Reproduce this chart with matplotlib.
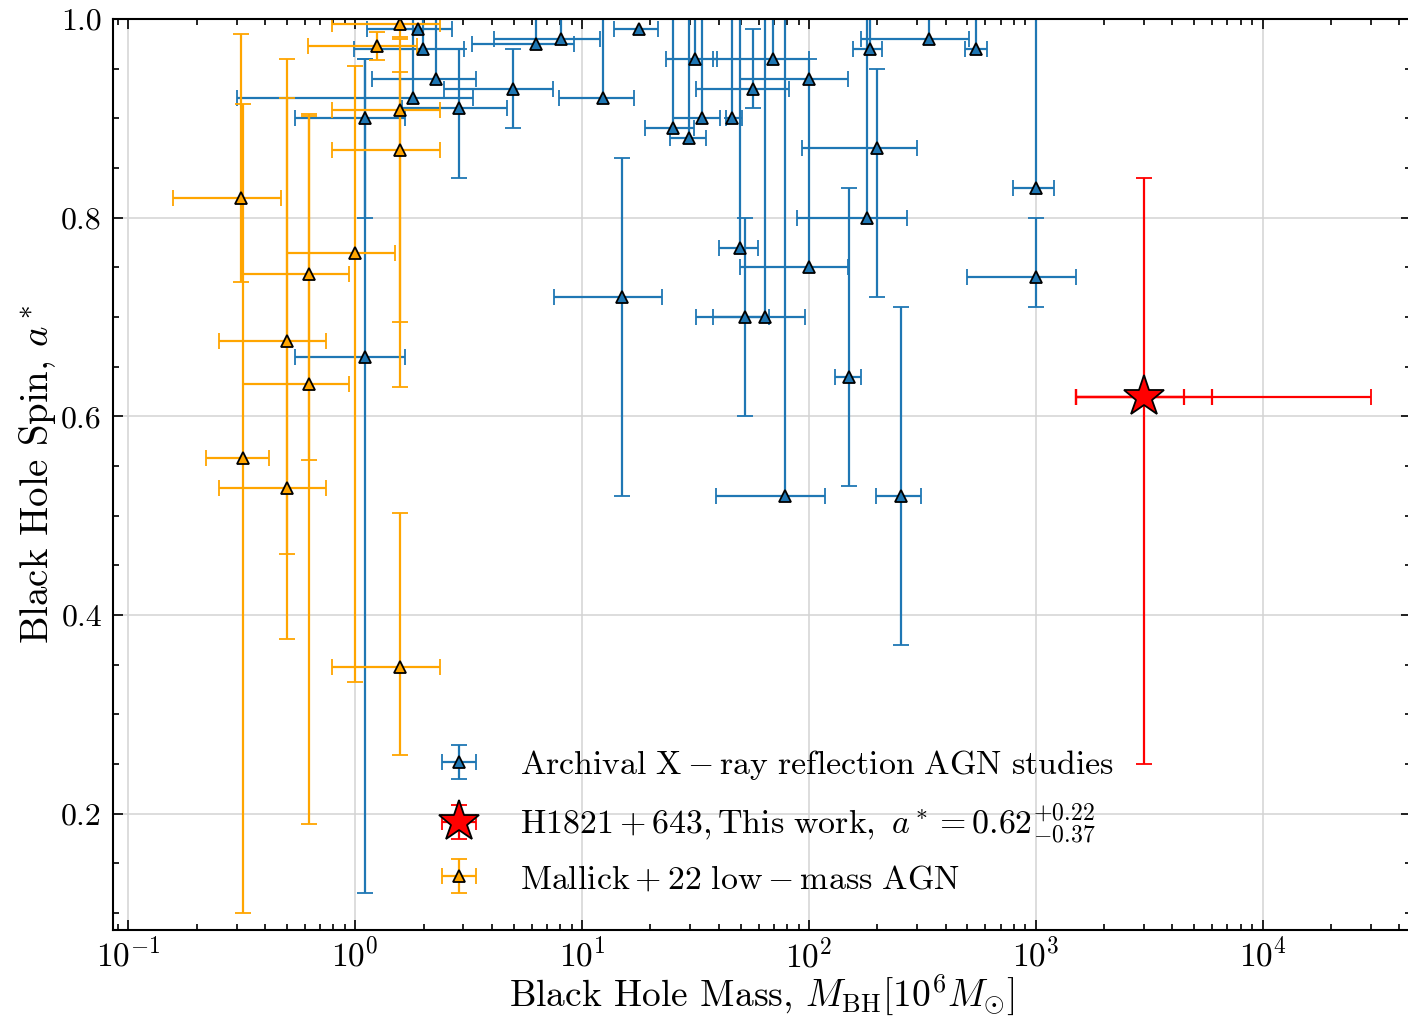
import numpy as np
import matplotlib
matplotlib.use("Agg")
import matplotlib.pyplot as plt

plt.rcParams['font.family'] = 'serif'
plt.rcParams['font.serif'] = ['cmr10']
plt.rcParams['mathtext.fontset'] = 'cm'
plt.rcParams['axes.formatter.use_mathtext'] = True
plt.rcParams['axes.unicode_minus'] = False

# archival X-ray reflection AGN studies
arch_mass = np.array([1.10, 1.10, 1.79, 1.90, 1.99, 2.28, 2.88, 4.94, 6.25, 8.07,
                      12.4, 15.0, 17.8, 25.1, 29.7, 31.5, 33.9, 45.9, 49.8, 52.4,
                      56.7, 63.9, 69.1, 78.6, 100, 100, 150, 180, 185, 199,
                      254, 339, 545, 1000, 1000])
arch_mass_min = np.array([0.54, 0.54, 0.30, 1.13, 0.99, 1.19, 1.60, 2.47, 3.28, 4.08,
                          7.94, 7.5, 13.8, 18.9, 24.3, 23.5, 25.1, 43.1, 40.0, 37.8,
                          31.9, 31.9, 37.8, 38.8, 49.8, 49.8, 130, 89, 156, 93,
                          198, 169, 489, 796, 500])
arch_mass_max = np.array([1.65, 1.65, 3.29, 2.68, 3.03, 3.39, 4.68, 7.44, 9.22, 12.0,
                          16.9, 22.5, 21.6, 31.0, 35.3, 39.5, 40.7, 50.6, 59.6, 66.5,
                          81.5, 95.8, 99.6, 118, 149, 149, 169, 270, 210, 300,
                          312, 507, 607, 1200, 1500])
arch_spin = np.array([0.90, 0.66, 0.92, 0.99, 0.97, 0.94, 0.91, 0.93, 0.975, 0.98,
                      0.92, 0.72, 0.99, 0.89, 0.88, 0.96, 0.90, 0.90, 0.77, 0.70,
                      0.93, 0.70, 0.96, 0.52, 0.94, 0.75, 0.64, 0.80, 0.97, 0.87,
                      0.52, 0.98, 0.97, 0.83, 0.74])
arch_spin_lo = np.array([0.10, 0.54, 0.0, 0.0, 0.0, 0.0, 0.07, 0.04, 0.0, 0.0,
                         0.0, 0.20, 0.0, 0.0, 0.0, 0.0, 0.0, 0.0, 0.0, 0.10,
                         0.02, 0.0, 0.0, 0.0, 0.19, 0.0, 0.11, 0.0, 0.0, 0.15,
                         0.15, 0.0, 0.0, 0.0, 0.03])
arch_spin_hi = np.array([0.06, 0.30, 0.10, 0.0, 0.05, 0.08, 0.06, 0.04, 0.05, 0.05,
                         0.10, 0.14, 0.0, 0.13, 0.14, 0.06, 0.12, 0.12, 0.25, 0.10,
                         0.06, 0.32, 0.06, 0.50, 0.02, 0.0, 0.19, 0.22, 0.05, 0.08,
                         0.19, 0.04, 0.05, 0.19, 0.06])

# Mallick+22 low-mass AGN
mal_mass = np.array([0.314, 0.319, 0.50, 0.50, 0.626, 0.626, 1.0, 1.25,
                     1.575, 1.575, 1.575, 1.575])
mal_mass_min = np.array([0.158, 0.219, 0.25, 0.25, 0.319, 0.319, 0.50, 0.622,
                         0.789, 0.789, 0.789, 0.789])
mal_mass_max = np.array([0.471, 0.416, 0.745, 0.745, 0.938, 0.938, 1.49, 1.88,
                         2.36, 2.36, 2.36, 2.36])
mal_spin = np.array([0.82, 0.558, 0.676, 0.528, 0.743, 0.633, 0.764, 0.973,
                     0.995, 0.908, 0.868, 0.348])
mal_spin_lo = np.array([0.085, 0.458, 0.30, 0.066, 0.187, 0.443, 0.431, 0.014,
                        0.013, 0.213, 0.238, 0.089])
mal_spin_hi = np.array([0.165, 0.356, 0.284, 0.392, 0.161, 0.269, 0.189, 0.014,
                        0.005, 0.039, 0.112, 0.155])

# H1821+643, this work
h_mass = 3000.0
h_mass_min = 1500.0
h_mass_max = [4500.0, 6000.0, 30000.0]
h_spin = 0.62
h_spin_lo = 0.37
h_spin_hi = 0.22

fig = plt.figure(figsize=(14.08, 10.17), dpi=100)
ax = fig.add_axes([0.0803, 0.0855, 0.9217, 0.8958])

eb = dict(fmt='^', ms=9, mec='k', mew=1.3, elinewidth=1.6, capsize=6, capthick=1.6)

ax.errorbar(arch_mass, arch_spin,
            xerr=[arch_mass - arch_mass_min, arch_mass_max - arch_mass],
            yerr=[arch_spin_lo, arch_spin_hi],
            color='#1f77b4', mfc='#1f77b4',
            label=r'$\rm Archival\ X-ray\ reflection\ AGN\ studies$', **eb)

for m in h_mass_max[:-1]:
    ax.errorbar([h_mass], [h_spin], xerr=[[h_mass - h_mass_min], [m - h_mass]],
                fmt='none', ecolor='red', elinewidth=1.6, capsize=6, capthick=1.6, zorder=4)
ax.errorbar([h_mass], [h_spin], xerr=[[h_mass - h_mass_min], [h_mass_max[-1] - h_mass]],
            yerr=[[h_spin_lo], [h_spin_hi]], fmt='*', ms=31, color='red', mfc='red',
            mec='k', mew=1.3, elinewidth=1.6, capsize=6, capthick=1.6, zorder=5,
            label=r'$\mathrm{H1821+643, This\ work,}\ a^* = 0.62^{+0.22}_{-0.37}$')

ax.errorbar(mal_mass, mal_spin,
            xerr=[mal_mass - mal_mass_min, mal_mass_max - mal_mass],
            yerr=[mal_spin_lo, mal_spin_hi],
            color='orange', mfc='orange',
            label=r'$\rm Mallick+22\ low-mass\ AGN$', **eb)

ax.set_xscale('log')
ax.set_xlim(0.0856, 45000)
ax.set_ylim(0.083, 1.0)
ax.set_yticks([0.2, 0.4, 0.6, 0.8, 1.0])
ax.yaxis.set_major_formatter(matplotlib.ticker.FormatStrFormatter('%.1f'))
ax.yaxis.set_minor_locator(matplotlib.ticker.MultipleLocator(0.05))

ax.grid(True, which='major', color='#d3d3d3', lw=1.1)
ax.tick_params(which='both', direction='in', top=True, right=True, labelsize=23, width=1.2)
ax.tick_params(which='major', length=7, pad=8)
ax.tick_params(which='minor', length=4)
ax.tick_params(axis='x', which='major', labelsize=24, pad=5)
for s in ax.spines.values():
    s.set_linewidth(1.5)

ax.set_xlabel(r'Black Hole Mass, $M_{\rm BH} [10^6 M_{\odot}]$', fontsize=27, labelpad=0)
ax.set_ylabel(r'Black Hole Spin, $a^*$', fontsize=28, labelpad=2)

ax.legend(loc='lower left', bbox_to_anchor=(0.217, 0.006), frameon=False, fontsize=24.4,
          labelspacing=0.55)

plt.savefig("out.png", dpi=100)
